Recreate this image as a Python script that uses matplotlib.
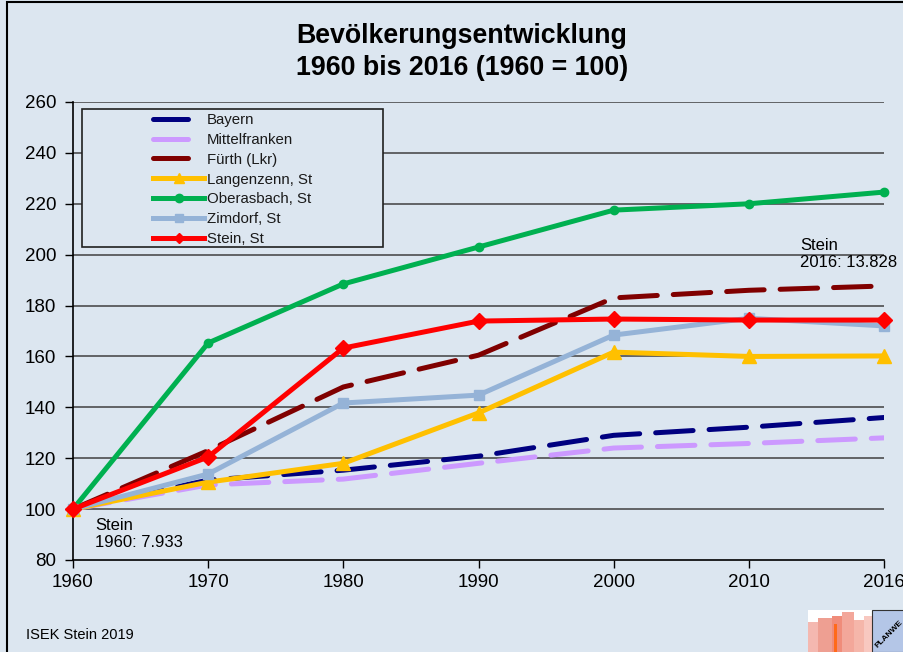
import matplotlib
matplotlib.use("Agg")
import matplotlib.pyplot as plt
from matplotlib.patches import Rectangle
from matplotlib.lines import Line2D

plt.rcParams['font.family'] = ['Liberation Sans', 'DejaVu Sans']

years = ["1960", "1970", "1980", "1990", "2000", "2010", "2016"]
bayern = [100, 111.4, 115.3, 120.8, 129.0, 132.2, 136.0]
mittelfranken = [100, 109.5, 111.8, 118.0, 124.0, 125.8, 128.0]
fuerth = [100, 123.0, 148.0, 160.5, 183.0, 186.0, 187.7]
langenzenn = [100, 110.6, 118.0, 137.8, 161.7, 160.0, 160.2]
oberasbach = [100, 165.3, 188.5, 203.0, 217.5, 220.0, 224.6]
zirndorf = [100, 113.8, 141.7, 144.8, 168.4, 175.0, 172.0]
stein = [100, 120.5, 163.3, 173.9, 174.7, 174.3, 174.3]

labels = ["Bayern", "Mittelfranken", "Fürth (Lkr)", "Langenzenn, St",
          "Oberasbach, St", "Zimdorf, St", "Stein, St"]

bg = "#dce6f0"
fig = plt.figure(figsize=(9.04, 6.52), dpi=100, facecolor=bg)
ax = fig.add_axes([73/904, 1-560/652, (884-73)/904, (560-102)/652])
ax.set_facecolor(bg)

x = list(range(len(years)))
lw = 3.6
dash = (7.5, 3.2)
ax.plot(x, bayern, color="#000080", lw=lw, dashes=dash, dash_capstyle='round', zorder=3)
ax.plot(x, mittelfranken, color="#CC99FF", lw=lw, dashes=dash, dash_capstyle='round', zorder=3)
ax.plot(x, fuerth, color="#800000", lw=lw, dashes=dash, dash_capstyle='round', zorder=3)
ax.plot(x, langenzenn, color="#FFC000", lw=lw, marker='^', ms=10, clip_on=False, zorder=4)
ax.plot(x, oberasbach, color="#00B050", lw=lw, marker='o', ms=6, clip_on=False, zorder=4)
ax.plot(x, zirndorf, color="#95B3D7", lw=lw, marker='s', ms=7.5, clip_on=False, zorder=4)
ax.plot(x, stein, color="#FF0000", lw=lw, marker='D', ms=8, clip_on=False, zorder=5)

ax.set_xlim(0, 6)
ax.set_ylim(80, 260)
ax.set_yticks(range(80, 261, 20))
ax.set_xticks(x)
ax.set_xticklabels(years)
ax.tick_params(axis='both', labelsize=13.5, direction='out', length=6, width=1, color='black')
ax.tick_params(axis='y', pad=6)
ax.tick_params(axis='x', pad=4)
for y in range(100, 261, 20):
    ax.axhline(y, color='#404040', lw=1.1, zorder=1)
for s in ['top', 'right']:
    ax.spines[s].set_visible(False)
for s in ['left', 'bottom']:
    ax.spines[s].set_color('black')
    ax.spines[s].set_linewidth(1.2)

# legend box
rect = Rectangle((82/904, 1-247/652), (383-82)/904, (247-109)/652,
                 transform=fig.transFigure, facecolor=bg, edgecolor='#202020',
                 lw=1.2, zorder=6)
fig.add_artist(rect)
hd = (7.0, 6.0)
leg_handles = [
    Line2D([], [], color="#000080", lw=lw, dashes=hd, dash_capstyle='round'),
    Line2D([], [], color="#CC99FF", lw=lw, dashes=hd, dash_capstyle='round'),
    Line2D([], [], color="#800000", lw=lw, dashes=hd, dash_capstyle='round'),
    Line2D([], [], color="#FFC000", lw=lw, marker='^', ms=7),
    Line2D([], [], color="#00B050", lw=lw, marker='o', ms=6),
    Line2D([], [], color="#95B3D7", lw=lw, marker='s', ms=6),
    Line2D([], [], color="#FF0000", lw=lw, marker='D', ms=5),
]
leg = fig.legend(leg_handles, labels, loc='upper left',
                 bbox_to_anchor=(150/904, 1-110/652), frameon=False,
                 fontsize=10.8, handlelength=3.4, handletextpad=0.2,
                 labelspacing=0.39, borderpad=0.2, borderaxespad=0)
leg.set_zorder(7)
for t in leg.get_texts():
    t.set_color('#1a1a1a')

# annotations
ax.text(95/904, 1-534/652, "Stein\n1960: 7.933", transform=fig.transFigure,
        fontsize=12, va='center', ha='left', linespacing=1.15, zorder=8)
ax.text(800/904, 1-254/652, "Stein\n2016: 13.828", transform=fig.transFigure,
        fontsize=12, va='center', ha='left', linespacing=1.15, zorder=8)

# title
fig.text(462/904, 1-36/652, "Bevölkerungsentwicklung", ha='center', va='center',
         fontsize=19.3, fontweight='bold')
fig.text(462/904, 1-68/652, "1960 bis 2016 (1960 = 100)", ha='center', va='center',
         fontsize=19.3, fontweight='bold')

# footer
fig.text(26/904, 1-635/652, "ISEK Stein 2019", ha='left', va='center', fontsize=10.5)

# frame
fig.add_artist(Rectangle((7/904, -0.05), 1.1, 1.05 - 1.5/652, transform=fig.transFigure,
                         facecolor='none', edgecolor='black', lw=1.5))

# logo (decorative)
def px(x0, y0, w, h, **kw):
    fig.add_artist(Rectangle((x0/904, 1-(y0+h)/652), w/904, h/652,
                             transform=fig.transFigure, **kw))
px(808, 610, 64, 42, facecolor='white', edgecolor='none')
px(808, 622, 12, 30, facecolor='#f4b8b0', edgecolor='none')
px(818, 618, 14, 34, facecolor='#ee9f92', edgecolor='none')
px(832, 616, 10, 36, facecolor='#f08c7a', edgecolor='none')
px(834, 624, 3, 28, facecolor='#ff6a1a', edgecolor='none')
px(842, 612, 12, 40, facecolor='#f3a79a', edgecolor='none')
px(854, 620, 10, 32, facecolor='#f5b6aa', edgecolor='none')
px(864, 616, 8, 36, facecolor='#f8c8c0', edgecolor='none')
px(872, 610, 32, 42, facecolor='#b4c6e7', edgecolor='#333333', lw=0.8)
fig.text(889/904, 1-634/652, "PLANWE", rotation=45, ha='center', va='center',
         fontsize=6, fontweight='bold', color='black')

fig.savefig("out.png", dpi=100, facecolor=bg)
